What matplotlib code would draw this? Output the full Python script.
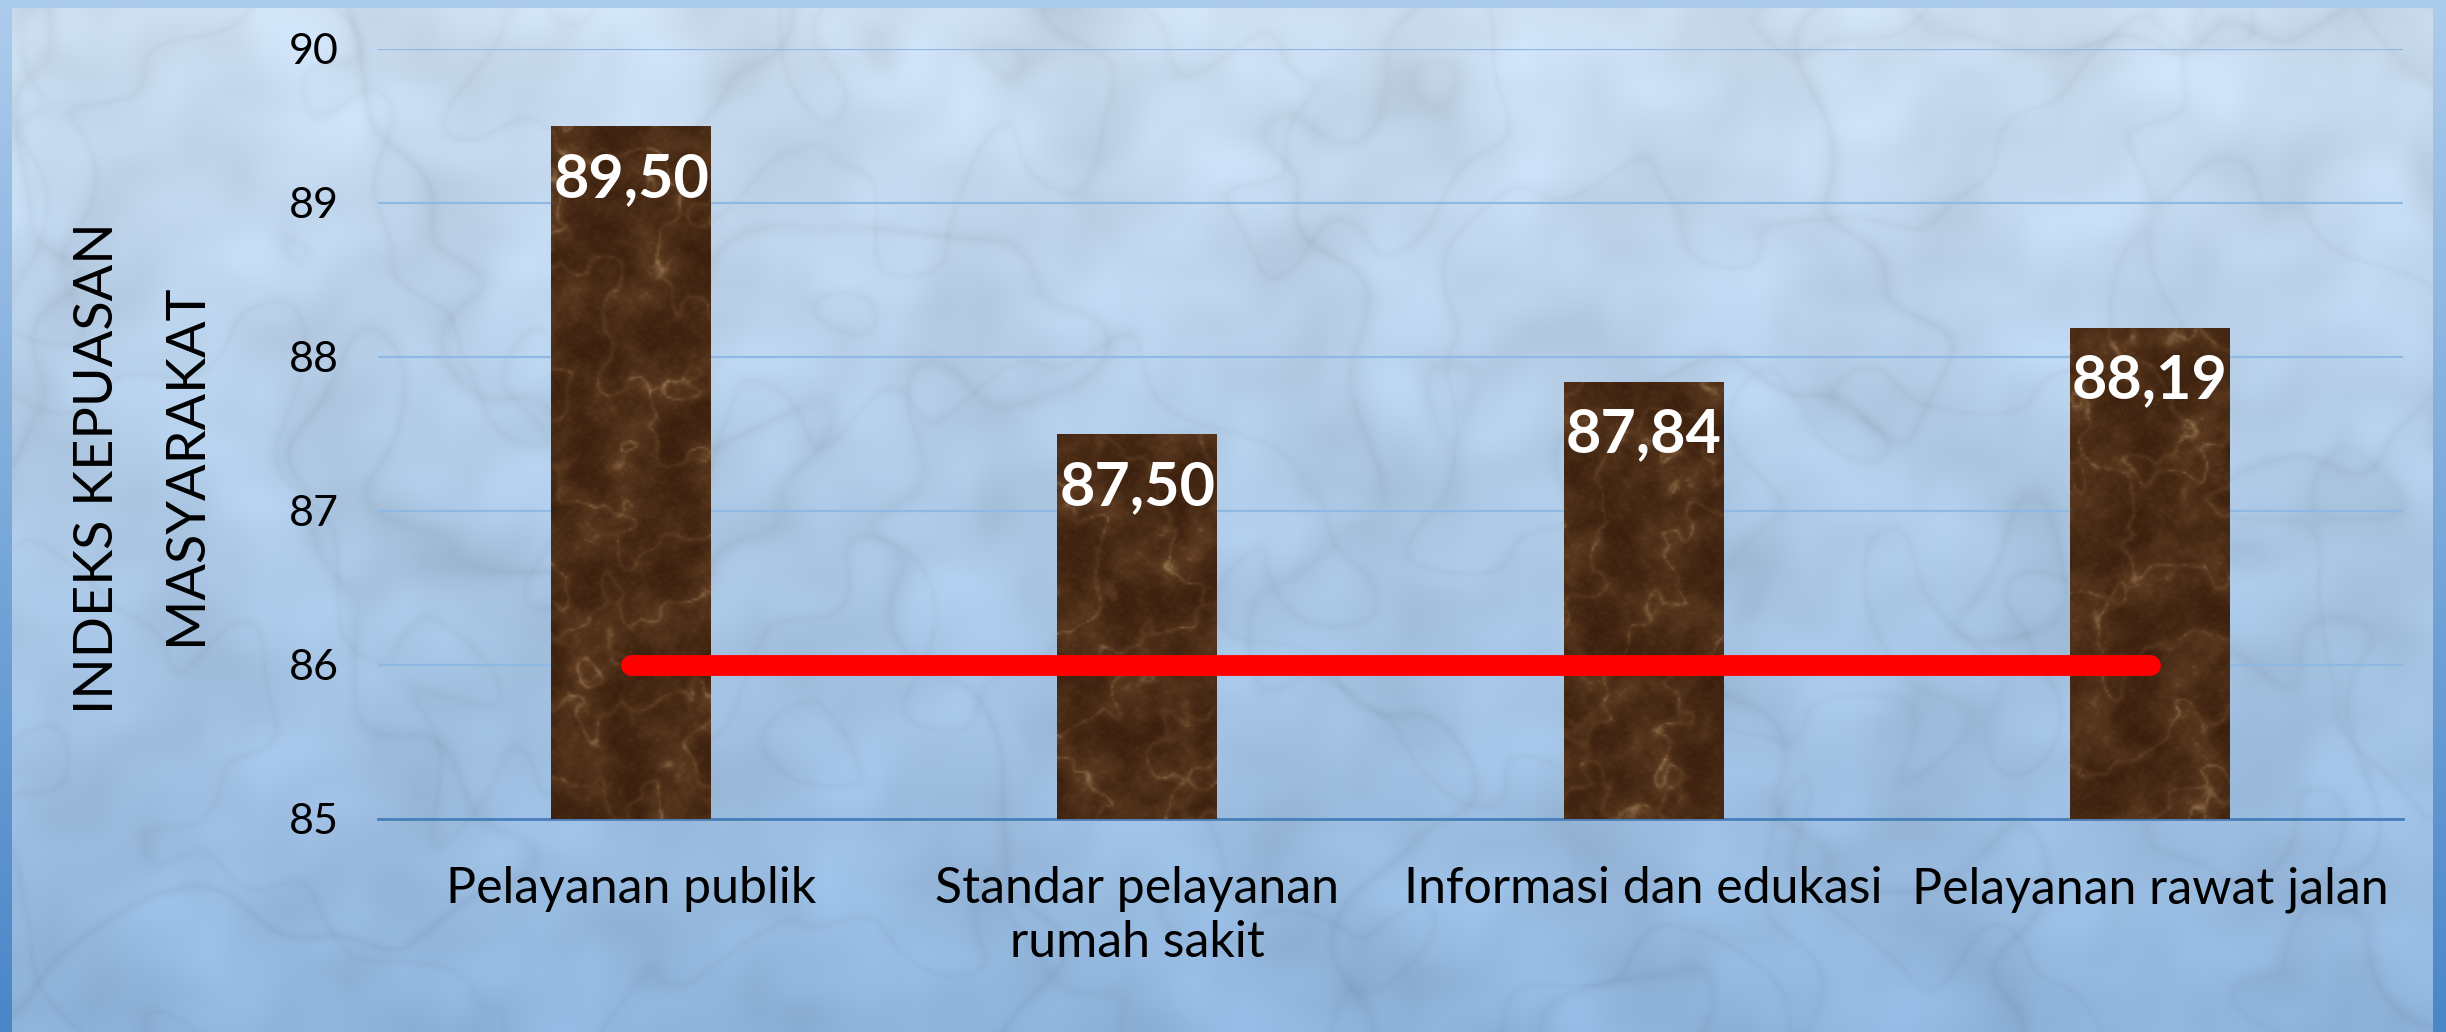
import numpy as np
import matplotlib
matplotlib.use('Agg')
import matplotlib.pyplot as plt
from matplotlib.colors import to_rgb

# ---------------- data ----------------
categories = ['Pelayanan publik', 'Standar pelayanan\nrumah sakit',
              'Informasi dan edukasi', 'Pelayanan rawat jalan']
values = [89.50, 87.50, 87.84, 88.19]
value_labels = ['89,50', '87,50', '87,84', '88,19']
target = [86, 86, 86, 86]
y_ticks = [85, 86, 87, 88, 89, 90]
y_label_lines = ['INDEKS KEPUASAN', 'MASYARAKAT']

FONT = 'Lato'
W, H = 2446, 1032
fig = plt.figure(figsize=(W / 100, H / 100), dpi=100)


def vgrad(top, bottom, n=256):
    t = np.linspace(0, 1, n)[:, None, None]
    c0 = np.array(to_rgb(top))[None, None, :]
    c1 = np.array(to_rgb(bottom))[None, None, :]
    return c0 * (1 - t) + c1 * t


def turb(X, Y, f0, octaves, phase):
    """deterministic sum-of-sines pseudo noise (decoration only)"""
    s = np.zeros_like(X)
    for k in range(octaves):
        th = k * 2.39996 + phase
        f = f0 * 1.62 ** k
        u = X * np.cos(th) + Y * np.sin(th)
        w = X * np.sin(th) - Y * np.cos(th)
        s += np.sin(f * u + 1.7 * np.sin(0.6 * f * w + k) + k * 1.3 + phase) / 1.45 ** k
    return s


# ---------------- background ----------------
bg = fig.add_axes([0, 0, 1, 1], zorder=-10)
bg.set_xlim(0, W)
bg.set_ylim(H, 0)
bg.axis('off')

# outer frame
bg.imshow(vgrad('#acccec', '#4a86c8'), extent=(0, W, H, 0), aspect='auto',
          interpolation='bilinear')

# inner marble panel
ny, nx = 340, 800
Y, X = np.mgrid[0:H:ny * 1j, 0:W:nx * 1j]
base = vgrad('#cddff1', '#90b5dd', ny)[:, 0, :]
base = np.repeat(base[:, None, :], nx, axis=1)
t1 = turb(X, Y, 0.006, 5, 0.4)
t2 = turb(X, Y, 0.011, 4, 1.9)
veins = np.exp(-np.abs(t1) * 9) * 0.7 + np.exp(-np.abs(t2) * 12) * 0.5
mott = turb(X, Y, 0.02, 4, 3.1)
panel = base * (1 - 0.075 * veins[:, :, None] - 0.02 * mott[:, :, None])
panel = np.clip(panel, 0, 1)
bg.imshow(panel, extent=(12, 2433, H, 8), aspect='auto', interpolation='bilinear')

# ---------------- chart ----------------
ax = fig.add_axes([378 / W, 213 / H, (2403 - 378) / W, (819 - 49) / H])
ax.patch.set_alpha(0)
x = np.arange(len(categories))

bars = ax.bar(x, [v - 85 for v in values], bottom=85, width=0.316,
              color='#4e2f1a', zorder=3)

dark = np.array(to_rgb('#3a1f0d'))
mid = np.array(to_rgb('#5c3a20'))
light = np.array(to_rgb('#a8875f'))
px_per_unit = (819 - 49) / 5.0
for i, (b, v) in enumerate(zip(bars, values)):
    x0 = b.get_x()
    w = b.get_width()
    hpx = int((v - 85) * px_per_unit)
    TY, TX = np.mgrid[0:hpx:(hpx // 2) * 1j, 0:160:80j]
    TY = TY + i * 300
    m = turb(TX, TY, 0.05, 6, 0.7 + i)
    m = (m - m.min()) / (m.max() - m.min())
    v1 = np.exp(-np.abs(turb(TX, TY, 0.03, 5, 2.2 + i)) * 6)
    grain = 0.5 + 0.5 * np.sin(TX * 1.9 + 2 * np.sin(TY * 1.3)) * np.sin(TY * 2.1 + 2 * np.cos(TX * 1.7))
    a = np.clip(0.55 * m ** 1.6 + 0.35 * v1 + 0.15 * grain ** 3, 0, 1)[:, :, None]
    tex = np.where(a < 0.5, dark * (1 - a / 0.5) + mid * (a / 0.5),
                   mid * (1 - (a - 0.5) / 0.5) + light * ((a - 0.5) / 0.5))
    tex = np.clip(tex, 0, 1)
    im = ax.imshow(tex, extent=(x0, x0 + w, 85, v), aspect='auto',
                   interpolation='bilinear', zorder=3.5)
    im.set_clip_path(b)

ax.plot(x, target, color='#ff0000', lw=15, solid_capstyle='round', zorder=5)

for xi, v, lab in zip(x, values, value_labels):
    ax.annotate(lab, (xi, v), xytext=(0, -38), textcoords='offset points',
                ha='center', va='center', color='white', fontsize=44,
                fontweight='bold', family=FONT, zorder=6)

ax.set_xlim(-0.5, len(categories) - 0.5)
ax.set_ylim(85, 90)
ax.set_yticks(y_ticks)
ax.set_xticks(x)
ax.set_xticklabels(categories, family=FONT, fontsize=36, linespacing=1.2)
for t in ax.get_yticklabels():
    t.set_family(FONT)
    t.set_fontsize(31)
ax.tick_params(axis='both', length=0, colors='black')
ax.tick_params(axis='y', pad=28)
ax.tick_params(axis='x', pad=34)
ax.yaxis.grid(True, color='#8fb8e3', lw=1.6, zorder=0)
ax.set_axisbelow(True)
for s in ['top', 'right', 'left']:
    ax.spines[s].set_visible(False)
ax.spines['bottom'].set_color('#4a7ebb')
ax.spines['bottom'].set_linewidth(2)
ax.spines['bottom'].set_zorder(2)

fig.text(98 / W, 1 - 468 / H, y_label_lines[0], rotation=90, ha='center',
         va='center', fontsize=39, family=FONT, color='black')
fig.text(185 / W, 1 - 464 / H, y_label_lines[1], rotation=90, ha='center',
         va='center', fontsize=39, family=FONT, color='black')

fig.savefig('out.png', dpi=100)
